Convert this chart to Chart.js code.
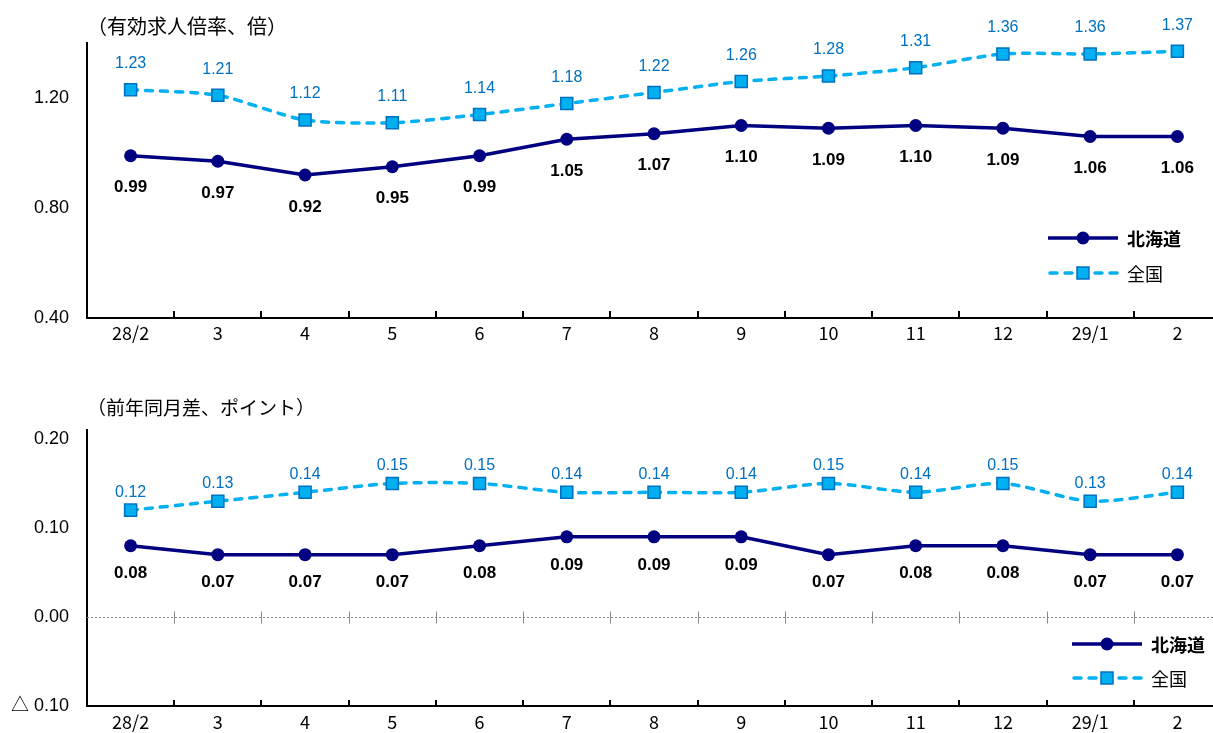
<!DOCTYPE html>
<html>
<head>
<meta charset="utf-8">
<script src="https://cdn.jsdelivr.net/npm/chart.js@4.4.1/dist/chart.umd.min.js"></script>
<style>
  html, body { margin: 0; padding: 0; background: #fff; overflow: hidden; width: 1213px; height: 733px; }
  .box { position: absolute; left: 0; width: 1231px; }
  #b1 { top: 0; height: 365px; }
  #b2 { top: 365px; height: 368px; }
  canvas { display: block; }
</style>
</head>
<body>
<div class="box" id="b1"><canvas id="c1" width="1231" height="365"></canvas></div>
<div class="box" id="b2"><canvas id="c2" width="1231" height="368"></canvas></div>
<script>
// Months (H28/2 .. H29/2)
const categories = ['28/2', '3', '4', '5', '6', '7', '8', '9', '10', '11', '12', '29/1', '2'];
const seriesNames = ['北海道', '全国'];

// Job openings-to-applicants ratio
const ratioHokkaido = [0.99, 0.97, 0.92, 0.95, 0.99, 1.05, 1.07, 1.10, 1.09, 1.10, 1.09, 1.06, 1.06];
const ratioNational = [1.23, 1.21, 1.12, 1.11, 1.14, 1.18, 1.22, 1.26, 1.28, 1.31, 1.36, 1.36, 1.37];
const ratioTicks = [0.40, 0.80, 1.20];

// Change from the same month of the previous year (points)
const diffHokkaido = [0.08, 0.07, 0.07, 0.07, 0.08, 0.09, 0.09, 0.09, 0.07, 0.08, 0.08, 0.07, 0.07];
const diffNational = [0.12, 0.13, 0.14, 0.15, 0.15, 0.14, 0.14, 0.14, 0.15, 0.14, 0.15, 0.13, 0.14];
const diffTicks = [-0.10, 0.00, 0.10, 0.20];

const JP = '"Noto Sans CJK JP", sans-serif';
const NUM = '"Liberation Sans", "Noto Sans CJK JP", sans-serif';
const NAVY = '#000080';
const SKY = '#00B0F0';
const BLUE = '#0070C0';

function line(ctx, x1, y1, x2, y2) {
  ctx.beginPath(); ctx.moveTo(x1, y1); ctx.lineTo(x2, y2); ctx.stroke();
}

// Titles, value labels, inside tick marks, zero line and legend
const decor = {
  id: 'decor',
  beforeDatasetsDraw(chart, args, o) {
    const ctx = chart.ctx, xs = chart.scales.x, ys = chart.scales.y, a = chart.chartArea;
    ctx.save();
    const n = chart.data.labels.length;
    const bounds = [];
    for (let i = 1; i < n; i++) bounds.push((xs.getPixelForValue(i - 1) + xs.getPixelForValue(i)) / 2);
    if (o.zeroLine) {
      const y0 = Math.round(ys.getPixelForValue(0)) + 0.5;
      ctx.strokeStyle = '#8a8a8a'; ctx.lineWidth = 1;
      ctx.setLineDash([2, 2]);
      line(ctx, a.left, y0, a.right, y0);
      ctx.setLineDash([]);
      bounds.forEach(x => line(ctx, Math.round(x) + 0.5, y0 - 6, Math.round(x) + 0.5, y0 + 6));
    }
    ctx.strokeStyle = '#000'; ctx.lineWidth = 2;
    bounds.forEach(x => line(ctx, Math.round(x), a.bottom, Math.round(x), a.bottom - o.tickIn));
    ctx.restore();
  },
  afterDatasetsDraw(chart, args, o) {
    const ctx = chart.ctx;
    ctx.save();
    ctx.textAlign = 'center'; ctx.textBaseline = 'middle';
    chart.data.datasets.forEach((ds, di) => {
      const meta = chart.getDatasetMeta(di);
      const st = o.labels[di];
      ctx.font = st.font; ctx.fillStyle = st.color;
      meta.data.forEach((pt, i) => {
        ctx.fillText(ds.data[i].toFixed(2), pt.x, pt.y + st.dy);
      });
    });
    // title
    ctx.textAlign = 'left';
    ctx.font = o.titleSize + 'px ' + JP; ctx.fillStyle = '#000';
    ctx.fillText(o.title, o.titleX, o.titleY);
    // legend
    const L = o.legend;
    const y1 = L.y, y2 = L.y + L.gap, x0 = L.x, x1 = L.x + L.len, xm = L.x + L.len / 2;
    ctx.strokeStyle = NAVY; ctx.lineWidth = 3.5; ctx.lineCap = 'butt';
    line(ctx, x0, y1, x1, y1);
    ctx.fillStyle = NAVY;
    ctx.beginPath(); ctx.arc(xm, y1, 6.5, 0, Math.PI * 2); ctx.fill();
    ctx.strokeStyle = SKY; ctx.lineWidth = 3.5; ctx.lineCap = 'round';
    ctx.setLineDash([7, 8]);
    line(ctx, x0 + 2, y2, x1, y2);
    ctx.setLineDash([]);
    ctx.fillStyle = SKY; ctx.strokeStyle = BLUE; ctx.lineWidth = 1.5;
    ctx.fillRect(xm - 6, y2 - 6, 12, 12); ctx.strokeRect(xm - 6, y2 - 6, 12, 12);
    ctx.fillStyle = '#000';
    ctx.font = 'bold 18px ' + JP;
    ctx.fillText(seriesNames[0], x1 + 9, y1 + 1);
    ctx.font = '18px ' + JP;
    ctx.fillText(seriesNames[1], x1 + 9, y2 + 1);
    ctx.restore();
  }
};

function makeChart(id, hk, nat, cfg) {
  return new Chart(document.getElementById(id), {
    type: 'line',
    data: {
      labels: categories,
      datasets: [
        {
          label: seriesNames[0], data: hk,
          borderColor: NAVY, backgroundColor: NAVY, borderWidth: 3.5,
          pointStyle: 'circle', pointRadius: 6.5, pointBackgroundColor: NAVY, pointBorderWidth: 0,
          tension: 0
        },
        {
          label: seriesNames[1], data: nat,
          borderColor: SKY, backgroundColor: SKY, borderWidth: 3.5,
          borderDash: [7, 8], borderCapStyle: 'round',
          pointStyle: 'rect', pointRadius: 8.5, pointBackgroundColor: SKY,
          pointBorderColor: BLUE, pointBorderWidth: 1.5,
          tension: 0.25
        }
      ]
    },
    options: {
      responsive: false,
      animation: false,
      devicePixelRatio: 1,
      layout: { padding: { top: cfg.top, right: 5, left: 0, bottom: 0 } },
      plugins: {
        legend: { display: false },
        tooltip: { enabled: false },
        decor: cfg.decor
      },
      scales: {
        x: {
          type: 'category', offset: true,
          grid: { display: false },
          border: { color: '#000', width: 2 },
          ticks: { color: '#000', font: { family: JP, size: 18 }, padding: cfg.xPad, maxRotation: 0, autoSkip: false },
          afterFit(s) { s.height = cfg.xHeight; }
        },
        y: {
          min: cfg.min, max: cfg.max,
          grid: { display: false },
          border: { color: '#000', width: 2 },
          ticks: {
            color: '#000', font: { family: NUM, size: 18 }, padding: 10,
            callback: v => v < 0 ? '△ ' + Math.abs(v).toFixed(2) : v.toFixed(2)
          },
          afterBuildTicks(s) { s.ticks = cfg.ticks.map(v => ({ value: v })); },
          afterFit(s) { s.width = 87; }
        }
      }
    },
    plugins: [decor]
  });
}

makeChart('c1', ratioHokkaido, ratioNational, {
  top: 43, xHeight: 47, xPad: -4, min: 0.40, max: 1.40, ticks: ratioTicks,
  decor: {
    zeroLine: false, tickIn: 7,
    labels: [
      { font: 'bold 17px ' + NUM, color: '#000', dy: 32 },
      { font: '16px ' + NUM, color: BLUE, dy: -26 }
    ],
    title: '（有効求人倍率、倍）', titleX: 87, titleY: 26, titleSize: 20,
    legend: { x: 1048, y: 238, len: 70, gap: 35 }
  }
});

makeChart('c2', diffHokkaido, diffNational, {
  top: 65, xHeight: 27, xPad: -3, min: -0.10, max: 0.21, ticks: diffTicks,
  decor: {
    zeroLine: true, tickIn: 6,
    labels: [
      { font: 'bold 17px ' + NUM, color: '#000', dy: 28 },
      { font: '16px ' + NUM, color: BLUE, dy: -18 }
    ],
    title: '（前年同月差、ポイント）', titleX: 87, titleY: 43, titleSize: 19,
    legend: { x: 1072, y: 279, len: 70, gap: 34 }
  }
});
</script>
</body>
</html>
